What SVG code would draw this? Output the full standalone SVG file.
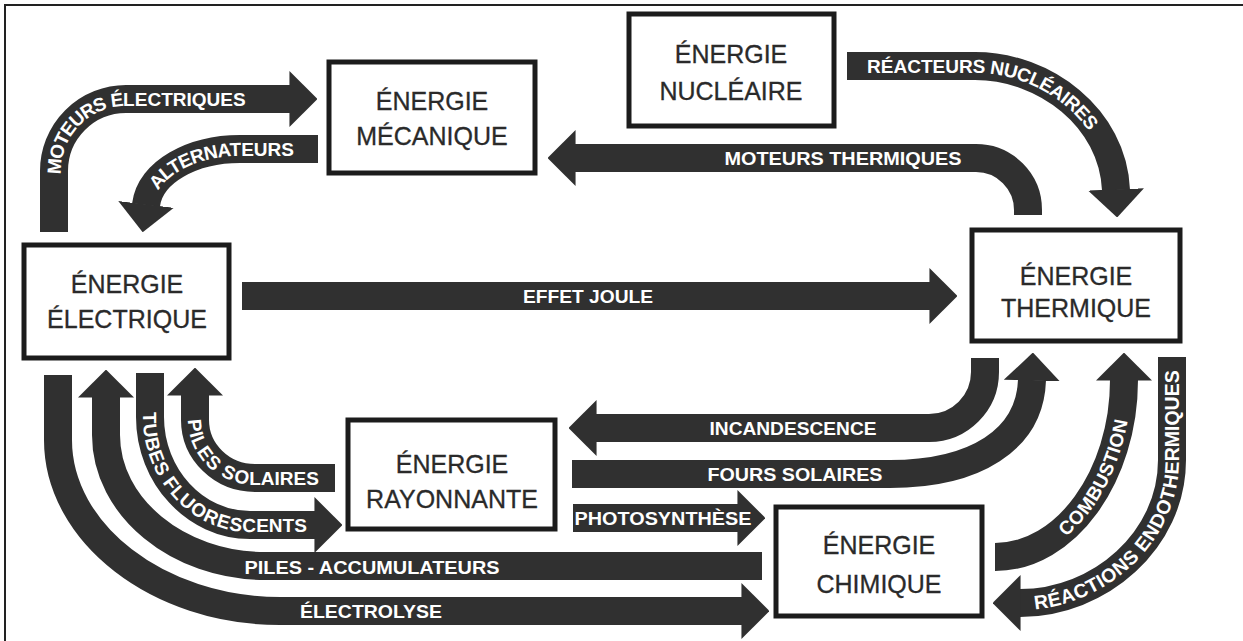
<svg xmlns="http://www.w3.org/2000/svg" xmlns:xlink="http://www.w3.org/1999/xlink" width="1243" height="641" viewBox="0 0 1243 641">
<style>
  .band{fill:none;stroke:#303030;stroke-width:28;stroke-linecap:butt;stroke-linejoin:round;marker-end:url(#ah)}
  .box rect{fill:#ffffff;stroke:#1c1c1c;stroke-width:5}
  .box text{font-family:"Liberation Sans",Arial,Helvetica,sans-serif;font-size:25px;fill:#2a2a2a;stroke:#2a2a2a;stroke-width:0.3;text-anchor:middle}
  .lbl{font-family:"Liberation Sans",Arial,Helvetica,sans-serif;font-weight:bold;font-size:19px;fill:#ffffff;dominant-baseline:central}
  .mid{text-anchor:middle}
  .frame{fill:none;stroke:#222;stroke-width:2}
</style>
<defs>
  <marker id="ah" viewBox="0 0 1 2" refX="0.02" refY="1" markerWidth="1" markerHeight="2" orient="auto" markerUnits="strokeWidth">
    <path d="M0,0 L1,1 L0,2 Z" fill="#303030"/>
  </marker>
  <path id="tp-motelec" d="M 54 232 L 54 171 A 72 72 0 0 1 126 99 L 290 99"/>
  <path id="tp-alter" d="M 146 205 C 150 172 192 149 240 149 L 318 149"/>
  <path id="tp-reac" d="M 847 66 L 975 66 C 1045 66 1113 118 1116 190"/>
  <path id="tp-comb" d="M 995 557 C 1066 557 1124 476 1124 380"/>
  <path id="tp-endo" d="M 1020 603 C 1100 603 1172 540 1172 460 L 1172 357"/>
  <path id="tp-tubes" d="M 150 373 L 150 417 C 150 476 195 525 250 525 L 315 525"/>
  <path id="tp-pilsol" d="M 195 395 L 195 420 C 195 452 222 478 255 478 L 335 478"/>
</defs>

<path class="frame" d="M 5 641 L 5 5 L 1243 5"/>

<g id="connectors">
  <g id="c-moteurs-electriques">
    <path class="band" d="M 54 232 L 54 171 A 72 72 0 0 1 126 99 L 290 99"/>
    <text class="lbl"><textPath xlink:href="#tp-motelec" href="#tp-motelec" startOffset="58">MOTEURS ÉLECTRIQUES</textPath></text>
  </g>
  <g id="c-alternateurs">
    <path class="band" d="M 318 149 L 240 149 C 192 149 150 172 146 205"/>
    <text class="lbl"><textPath xlink:href="#tp-alter" href="#tp-alter" startOffset="20">ALTERNATEURS</textPath></text>
  </g>
  <g id="c-moteurs-thermiques">
    <path class="band" d="M 1028 215 L 1028 210 A 52 52 0 0 0 976 158 L 575 158"/>
    <text class="lbl mid" x="843" y="158" textLength="237" lengthAdjust="spacingAndGlyphs">MOTEURS THERMIQUES</text>
  </g>
  <g id="c-reacteurs-nucleaires">
    <path class="band" d="M 847 66 L 975 66 C 1045 66 1113 118 1116 190"/>
    <text class="lbl"><textPath xlink:href="#tp-reac" href="#tp-reac" startOffset="20">RÉACTEURS NUCLÉAIRES</textPath></text>
  </g>
  <g id="c-effet-joule">
    <path class="band" d="M 242 296 L 930 296"/>
    <text class="lbl mid" x="588" y="296" textLength="130" lengthAdjust="spacingAndGlyphs">EFFET JOULE</text>
  </g>
  <g id="c-incandescence">
    <path class="band" d="M 985 358 L 985 372 A 56 56 0 0 1 929 428 L 596 428"/>
    <text class="lbl mid" x="793" y="428" textLength="167" lengthAdjust="spacingAndGlyphs">INCANDESCENCE</text>
  </g>
  <g id="c-fours-solaires">
    <path class="band" d="M 572 474 L 890 474 C 975 474 1030 440 1032 380"/>
    <text class="lbl mid" x="795" y="474" textLength="175" lengthAdjust="spacingAndGlyphs">FOURS SOLAIRES</text>
  </g>
  <g id="c-photosynthese">
    <path class="band" d="M 573 518 L 738 518"/>
    <text class="lbl mid" x="663" y="518" textLength="177" lengthAdjust="spacingAndGlyphs">PHOTOSYNTHÈSE</text>
  </g>
  <g id="c-combustion">
    <path class="band" d="M 995 557 C 1066 557 1124 476 1124 380"/>
    <text class="lbl"><textPath xlink:href="#tp-comb" href="#tp-comb" startOffset="72">COMBUSTION</textPath></text>
  </g>
  <g id="c-reactions-endothermiques">
    <path class="band" d="M 1172 357 L 1172 460 C 1172 540 1100 603 1020 603"/>
    <text class="lbl" style="font-size:19.5px"><textPath xlink:href="#tp-endo" href="#tp-endo" startOffset="14">RÉACTIONS ENDOTHERMIQUES</textPath></text>
  </g>
  <g id="c-electrolyse">
    <path class="band" d="M 58 375 L 58 440 C 58 533 158 611 280 611 L 742 611"/>
    <text class="lbl mid" x="371" y="611" textLength="142" lengthAdjust="spacingAndGlyphs">ÉLECTROLYSE</text>
  </g>
  <g id="c-piles-accumulateurs">
    <path class="band" d="M 762 566 L 265 566 C 178 566 106 507 106 435 L 106 397"/>
    <text class="lbl mid" x="372" y="567" textLength="255" lengthAdjust="spacingAndGlyphs">PILES - ACCUMULATEURS</text>
  </g>
  <g id="c-tubes-fluorescents">
    <path class="band" d="M 150 373 L 150 417 C 150 476 195 525 250 525 L 315 525"/>
    <text class="lbl"><textPath xlink:href="#tp-tubes" href="#tp-tubes" startOffset="39">TUBES FLUORESCENTS</textPath></text>
  </g>
  <g id="c-piles-solaires">
    <path class="band" d="M 335 478 L 255 478 C 222 478 195 452 195 420 L 195 395"/>
    <text class="lbl"><textPath xlink:href="#tp-pilsol" href="#tp-pilsol" startOffset="24">PILES SOLAIRES</textPath></text>
  </g>
</g>

<g id="node-mecanique" class="box">
  <rect x="329" y="62" width="206" height="111"/>
  <text x="432" y="110">ÉNERGIE</text>
  <text x="432" y="145">MÉCANIQUE</text>
</g>
<g id="node-nucleaire" class="box">
  <rect x="629" y="14" width="205" height="112"/>
  <text x="731" y="63">ÉNERGIE</text>
  <text x="731" y="100">NUCLÉAIRE</text>
</g>
<g id="node-electrique" class="box">
  <rect x="24" y="245" width="205" height="113"/>
  <text x="127" y="293">ÉNERGIE</text>
  <text x="127" y="328">ÉLECTRIQUE</text>
</g>
<g id="node-thermique" class="box">
  <rect x="972" y="230" width="208" height="111"/>
  <text x="1076" y="285">ÉNERGIE</text>
  <text x="1076" y="317">THERMIQUE</text>
</g>
<g id="node-rayonnante" class="box">
  <rect x="348" y="420" width="207" height="109"/>
  <text x="452" y="473">ÉNERGIE</text>
  <text x="452" y="508">RAYONNANTE</text>
</g>
<g id="node-chimique" class="box">
  <rect x="776" y="507" width="206" height="109"/>
  <text x="879" y="554">ÉNERGIE</text>
  <text x="879" y="593">CHIMIQUE</text>
</g>
</svg>
